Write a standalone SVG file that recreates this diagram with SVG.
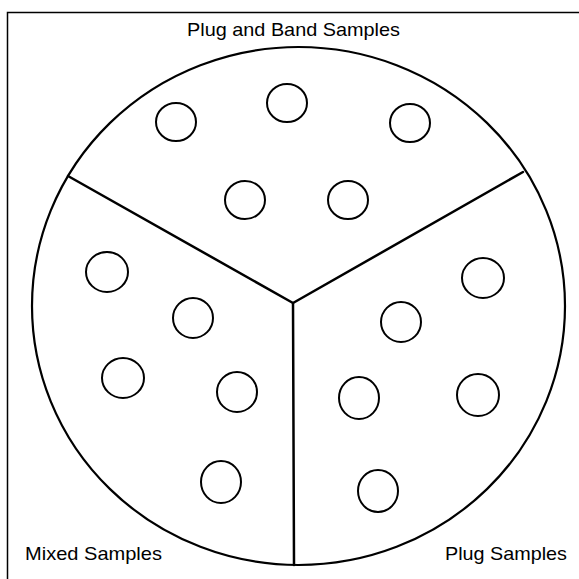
<svg xmlns="http://www.w3.org/2000/svg" width="579" height="579" viewBox="0 0 579 579">
<style>
.frame{fill:none;stroke:#000;stroke-width:1.5}
.big{fill:none;stroke:#000;stroke-width:2.2}
.div{fill:none;stroke:#000;stroke-width:2.5;stroke-linecap:round;stroke-linejoin:round}
.s{fill:#fff;stroke:#000;stroke-width:2}
.lbl{font-family:"Liberation Sans",Arial,sans-serif;font-size:19px;fill:#000}
</style>
<rect width="579" height="579" fill="#fff"/>
<path class="frame" d="M7.5 579 V12.5 H579"/>
<ellipse id="plate" class="big" cx="298.5" cy="306" rx="266.5" ry="259"/>
<g id="connectors">
<path class="div" d="M68 176 L293 303 L523 172"/>
<path class="div" d="M293 303 L294 565"/>
</g>
<text class="lbl" x="187" y="36" textLength="213" lengthAdjust="spacingAndGlyphs">Plug and Band Samples</text>
<text class="lbl" x="25" y="560" textLength="137" lengthAdjust="spacingAndGlyphs">Mixed Samples</text>
<text class="lbl" x="445" y="560" textLength="122" lengthAdjust="spacingAndGlyphs">Plug Samples</text>
<g id="band">
<ellipse class="s" cx="287" cy="103" rx="20" ry="19"/>
<ellipse class="s" cx="176" cy="122" rx="20" ry="19"/>
<ellipse class="s" cx="410" cy="123" rx="20" ry="19"/>
<ellipse class="s" cx="245" cy="200" rx="20" ry="19"/>
<ellipse class="s" cx="348" cy="200" rx="20" ry="19"/>
</g>
<g id="mixed">
<ellipse class="s" cx="107" cy="272" rx="21" ry="20"/>
<ellipse class="s" cx="193" cy="318" rx="20" ry="20"/>
<ellipse class="s" cx="123" cy="378" rx="21" ry="20"/>
<ellipse class="s" cx="237" cy="392" rx="20" ry="20"/>
<ellipse class="s" cx="221" cy="482" rx="20" ry="21"/>
</g>
<g id="plug">
<ellipse class="s" cx="483" cy="278" rx="21" ry="20"/>
<ellipse class="s" cx="401" cy="322" rx="20" ry="20"/>
<ellipse class="s" cx="359" cy="398" rx="20" ry="21"/>
<ellipse class="s" cx="478" cy="395" rx="21" ry="21"/>
<ellipse class="s" cx="378" cy="491" rx="20" ry="21"/>
</g>
</svg>
